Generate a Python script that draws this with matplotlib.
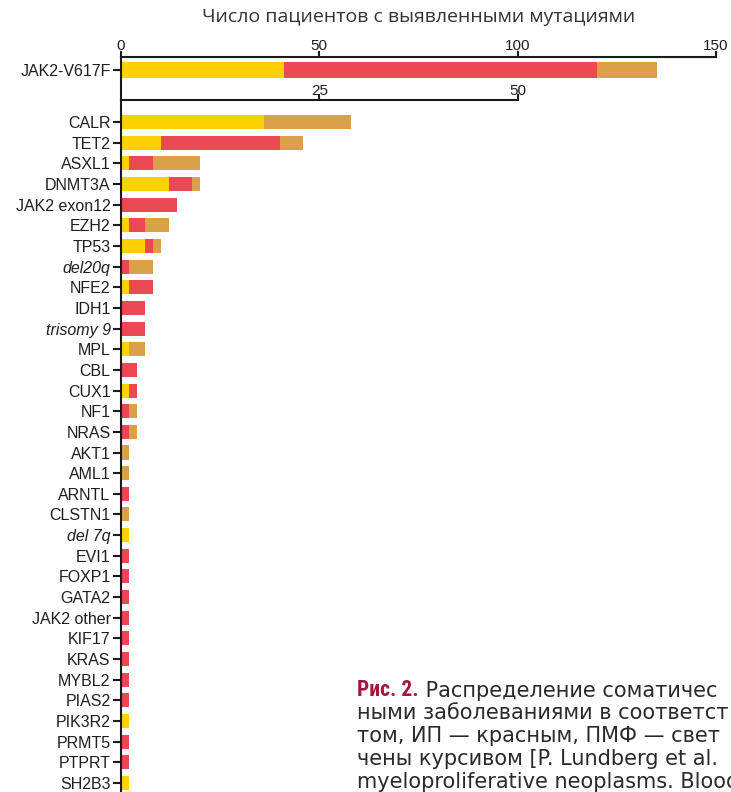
import matplotlib
matplotlib.use('Agg')
import matplotlib.pyplot as plt

# ---------------- data ----------------
title = 'Число пациентов с выявленными мутациями'

top_gene = 'JAK2-V617F'
top_et = [41]
top_pv = [79]
top_pmf = [15]
top_ticks = [0, 50, 100, 150]

genes = ['CALR', 'TET2', 'ASXL1', 'DNMT3A', 'JAK2 exon12', 'EZH2', 'TP53', 'del20q',
         'NFE2', 'IDH1', 'trisomy 9', 'MPL', 'CBL', 'CUX1', 'NF1', 'NRAS', 'AKT1',
         'AML1', 'ARNTL', 'CLSTN1', 'del 7q', 'EVI1', 'FOXP1', 'GATA2', 'JAK2 other',
         'KIF17', 'KRAS', 'MYBL2', 'PIAS2', 'PIK3R2', 'PRMT5', 'PTPRT', 'SH2B3']
et = [18, 5, 1, 6, 0, 1, 3, 0, 1, 0, 0, 1, 0, 1, 0, 0, 0,
      0, 0, 0, 1, 0, 0, 0, 0, 0, 0, 0, 0, 1, 0, 0, 1]
pv = [0, 15, 3, 3, 7, 2, 1, 1, 3, 3, 3, 0, 2, 1, 1, 1, 0,
      0, 1, 0, 0, 1, 1, 1, 1, 1, 1, 1, 1, 0, 1, 1, 0]
pmf = [11, 3, 6, 1, 0, 3, 1, 3, 0, 0, 0, 2, 0, 0, 1, 1, 1,
       1, 0, 1, 0, 0, 0, 0, 0, 0, 0, 0, 0, 0, 0, 0, 0]
italic_genes = ['del20q', 'trisomy 9', 'del 7q']
main_ticks = [25, 50]

caption_head = 'Рис. 2.'
caption_lines = [' Распределение соматичес',
                 'ными заболеваниями в соответст',
                 'том, ИП — красным, ПМФ — свет',
                 'чены курсивом [P. Lundberg et al.',
                 'myeloproliferative neoplasms. Blood']

# ---------------- style ----------------
C_ET = '#FDD000'
C_PV = '#EA4852'
C_PMF = '#DBA04A'
W, H = 731, 792
X0, X1 = 121, 716
ROW = 20.65
AX_COLOR = '#1a1a1a'
TXT_COLOR = '#1e1e1e'

plt.rcParams['font.family'] = ['Liberation Sans', 'DejaVu Sans']

fig = plt.figure(figsize=(W / 100, H / 100), dpi=100)
fig.patch.set_facecolor('white')


def style_axis(ax, xlabsize, xpad):
    for s in ['right', 'bottom']:
        ax.spines[s].set_visible(False)
    for s in ['left', 'top']:
        ax.spines[s].set_linewidth(1.5)
        ax.spines[s].set_color(AX_COLOR)
    ax.patch.set_alpha(0)
    ax.xaxis.set_ticks_position('top')
    ax.tick_params(axis='x', which='both', top=True, bottom=False, labeltop=True,
                   labelbottom=False, direction='out', length=4, width=1.5,
                   color=AX_COLOR, pad=xpad, labelsize=xlabsize, labelcolor=TXT_COLOR)
    ax.tick_params(axis='y', which='both', left=True, direction='out', length=5.5,
                   width=1.5, color=AX_COLOR, pad=2, labelsize=11.5,
                   labelcolor=TXT_COLOR)


# ---- top axis (JAK2-V617F, scale 0..150) ----
ax_top = fig.add_axes([X0 / W, 1 - 100 / H, (X1 - X0) / W, (100 - 57) / H])
style_axis(ax_top, 11, -1)
ax_top.set_xlim(0, 150)
ax_top.set_ylim(30 / ROW, -13 / ROW)
bh_top = 16 / ROW
ax_top.barh([0], top_et, height=bh_top, color=C_ET, linewidth=0)
ax_top.barh([0], top_pv, left=top_et, height=bh_top, color=C_PV, linewidth=0)
ax_top.barh([0], top_pmf, left=[a + b for a, b in zip(top_et, top_pv)],
            height=bh_top, color=C_PMF, linewidth=0)
ax_top.set_xticks(top_ticks)
ax_top.set_xticklabels([str(t) for t in top_ticks])
ax_top.set_yticks([0])
ax_top.set_yticklabels([top_gene])
ax_top.set_title(title, fontsize=14, color='#333333', family='Open Sans', pad=12)

# ---- main axis (scale 0..75, spine drawn only to 50) ----
ax = fig.add_axes([X0 / W, 0, (X1 - X0) / W, (H - 100) / H])
style_axis(ax, 11, -2.5)
ax.spines['top'].set_bounds(0, 50)
ax.set_xlim(0, 75)
n = len(genes)
ax.set_ylim(n - 1 + 9 / ROW, -22 / ROW)
ys = list(range(n))
bh = 14 / ROW
left2 = [a + b for a, b in zip(et, pv)]
ax.barh(ys, et, height=bh, color=C_ET, linewidth=0)
ax.barh(ys, pv, left=et, height=bh, color=C_PV, linewidth=0)
ax.barh(ys, pmf, left=left2, height=bh, color=C_PMF, linewidth=0)
ax.set_xticks(main_ticks)
ax.set_xticklabels([str(t) for t in main_ticks])
ax.set_yticks(ys)
ax.set_yticklabels(genes)
for lab in ax.get_yticklabels():
    if lab.get_text() in italic_genes:
        lab.set_style('italic')

# ---- caption ----
cx, cy0, dy = 357, 696, 23.0
cap_font = 15
cap_color = '#2a2a2a'
t0 = fig.text(cx / W, 1 - cy0 / H, caption_head, fontsize=15.5, weight='bold',
              color='#A3173D', va='baseline', family=['Roboto Condensed', 'DejaVu Sans'])
fig.add_artist(plt.Annotation(caption_lines[0], xy=(1, 0), xycoords=t0,
                              va='bottom', ha='left', fontsize=cap_font,
                              color=cap_color, family='DejaVu Sans'))
for i, line in enumerate(caption_lines[1:], start=1):
    fig.text(cx / W, 1 - (cy0 + i * dy) / H, line, fontsize=cap_font,
             color=cap_color, va='baseline', family='DejaVu Sans')

fig.savefig('out.png', dpi=100)
